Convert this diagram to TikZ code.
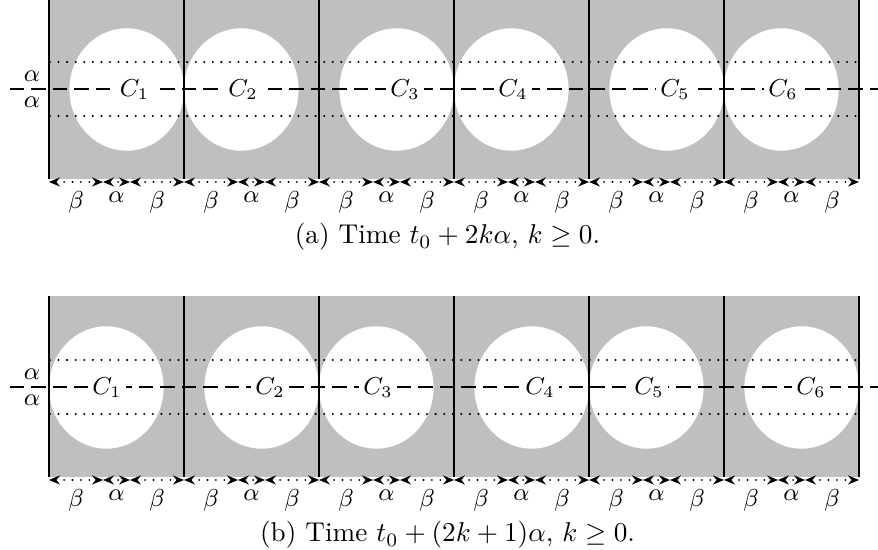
\documentclass[tikz,border=0pt]{standalone}
\usetikzlibrary{arrows.meta}
\begin{document}
\begin{tikzpicture}[x=0.3676pt,y=-0.3676pt,
  cellfill/.style={fill=black!25},
  hole/.style={fill=white},
  divider/.style={line width=0.9pt},
  midline/.style={line width=0.55pt, dash pattern=on 5.3pt off 2.6pt},
  bandline/.style={line width=0.85pt, line cap=round, dash pattern=on 0pt off 3.15pt},
  span/.style={line width=0.75pt, line cap=round, dash pattern=on 0pt off 3.1pt,
    {Stealth[length=4pt,width=3.3pt]}-{Stealth[length=4pt,width=3.3pt]}},
  clab/.style={font=\small, fill=white, inner sep=1.5pt},
  slab/.style={font=\small, inner sep=0pt},
  dlab/.style={font=\small, below, inner sep=3.3pt},
  caption/.style={anchor=base, inner sep=0pt}
]
\useasboundingbox (0,0) rectangle (878,550);

% ---------- grey bands ----------
\foreach \oy in {0,298}{
  \fill[cellfill] (49,-2+\oy) rectangle (859,179+\oy);
}

% ---------- white discs ----------
\foreach \cx in {126.7,241.3,396.7,511.3,666.7,781.3}
  \fill[hole] (\cx,89.5) ellipse [x radius=57.3, y radius=61.2];
\foreach \cx in {106.3,261.7,376.3,531.7,646.3,801.7}
  \fill[hole] (\cx,387.5) ellipse [x radius=57.3, y radius=61.2];

% ---------- dotted band limits and dashed mid line ----------
\foreach \oy in {0,298}{
  \draw[bandline] (50,62+\oy) -- (859,62+\oy);
  \draw[bandline] (50,116+\oy) -- (859,116+\oy);
  \draw[midline] (10,89+\oy) -- (878,89+\oy);
}

% ---------- cell dividers ----------
\foreach \oy in {0,298}{
  \foreach \i in {0,...,6}
    \draw[divider] (49+135*\i,-2+\oy) -- (49+135*\i,179+\oy);
}

% ---------- side labels ----------
\node[slab] (a-up) at (32,76) {$\alpha$};
\node[slab] (a-dn) at (32,102) {$\alpha$};
\node[slab] (b-up) at (32,374) {$\alpha$};
\node[slab] (b-dn) at (32,400) {$\alpha$};

% ---------- disc labels ----------
\foreach \lx [count=\k] in {134.5,243,405,513,675,783}
  \node[clab] (a-C\k) at (\lx,89.5) {$C_{\k}$};
\foreach \lx [count=\k] in {107,270,378,540,649,811}
  \node[clab] (b-C\k) at (\lx,387.5) {$C_{\k}$};

% ---------- spans below each cell ----------
\foreach \oy/\pp in {182/a,480/b}{
  \foreach \i in {0,...,5}{
    \coordinate (\pp-p\i-0) at (49+135*\i,\oy);
    \coordinate (\pp-p\i-1) at (103+135*\i,\oy);
    \coordinate (\pp-p\i-2) at (130+135*\i,\oy);
    \coordinate (\pp-p\i-3) at (184+135*\i,\oy);
    \draw[span] (\pp-p\i-0) -- node[dlab] {$\beta$} (\pp-p\i-1);
    \draw[span] (\pp-p\i-1) -- node[dlab] {$\alpha$} (\pp-p\i-2);
    \draw[span] (\pp-p\i-2) -- node[dlab] {$\beta$} (\pp-p\i-3);
  }
}

% ---------- captions ----------
\node[caption] (cap-a) at (447.5,244) {(a) Time $t_0+2k\alpha$, $k\geq0$.};
\node[caption] (cap-b) at (447.5,542) {(b) Time $t_0+(2k+1)\alpha$, $k\geq0$.};
\end{tikzpicture}
\end{document}
